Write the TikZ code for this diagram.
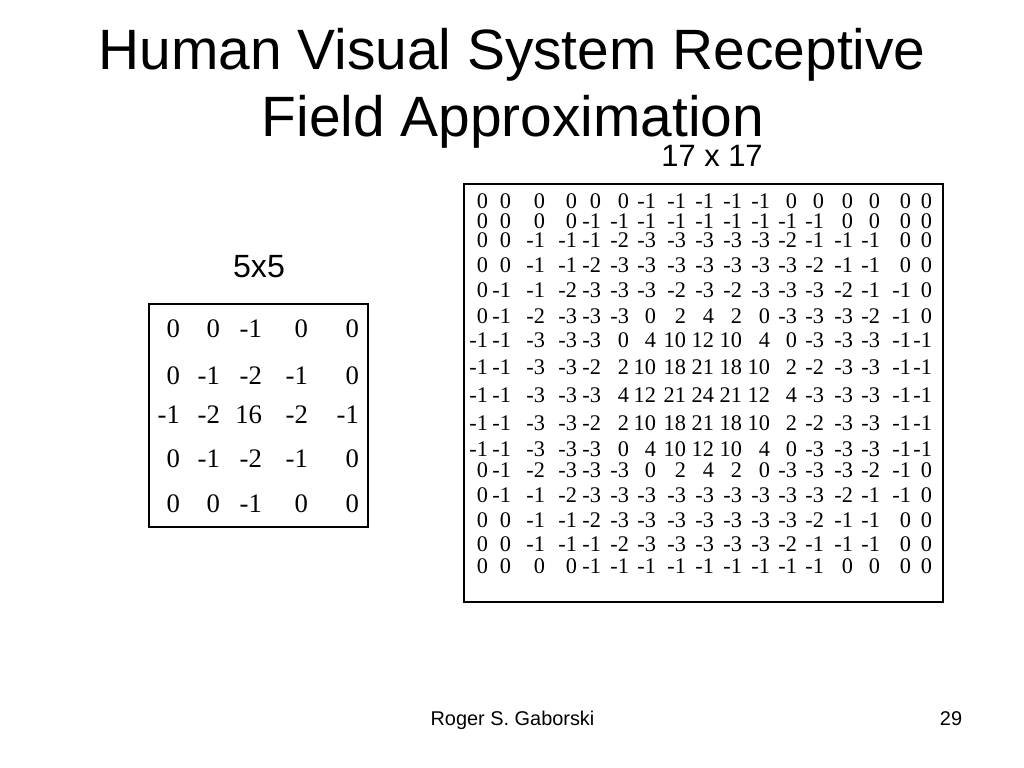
\documentclass[tikz,border=0pt]{standalone}
\usepackage{fontspec}
\setmainfont{Liberation Serif}
\newfontfamily\arialf{Liberation Sans}
\begin{document}
\begin{tikzpicture}[x=0.703125pt,y=-0.703125pt,
  every node/.style={inner sep=0pt,outer sep=0pt},
  bigcell/.style={anchor=base east,font=\fontsize{15.7}{18}\selectfont},
  smallcell/.style={anchor=base east,font=\fontsize{18.8}{22}\selectfont},
  frame/.style={draw=black,line width=1.1pt}]
\useasboundingbox (0,0) rectangle (1024,768);
% title
\node[anchor=base,font=\arialf\fontsize{40}{46}\selectfont] (t1) at (512,70) {Human Visual System Receptive};
\node[anchor=base,font=\arialf\fontsize{40}{46}\selectfont] (t2) at (513,137) {Field Approximation};
% labels
\node[anchor=base,font=\arialf\fontsize{21.7}{25}\selectfont] (l17) at (712,167) {17 x 17};
\node[anchor=base,font=\arialf\fontsize{22.6}{26}\selectfont] (l5) at (259,278) {5x5};
% footer
\node[anchor=base,font=\arialf\fontsize{14}{16}\selectfont] (auth) at (512.5,725) {Roger S. Gaborski};
\node[anchor=base,font=\arialf\fontsize{14}{16}\selectfont] (pg) at (951,725) {29};
% frames
\draw[frame] (149,304) rectangle (368,527);
\draw[frame] (464,184) rectangle (943,602);
% 5x5 matrix
\def\fyy{{338,384,423,467,512}}
\def\fxx{{180,220,262,308,359}}
\foreach \row [count=\r] in {{0,0,-1,0,0},{0,-1,-2,-1,0},{-1,-2,16,-2,-1},{0,-1,-2,-1,0},{0,0,-1,0,0}}{
  \foreach \v [count=\c] in \row {
    \pgfmathsetmacro\yy{\fyy[\r-1]}
    \pgfmathsetmacro\xx{\fxx[\c-1]}
    \node[smallcell] (s\r-\c) at (\xx,\yy) {\v};
  }
}
% 17x17 matrix
\def\byy{{209,229,248,273,298,323,347,374,402,430,456,477,502,527,551,573}}
\def\bxx{{488,511,545,577,601,629,656,686,714,742,770,797,824,853,880,911,932}}
\foreach \row [count=\r] in {
 {0,0,0,0,0,0,-1,-1,-1,-1,-1,0,0,0,0,0,0},
 {0,0,0,0,-1,-1,-1,-1,-1,-1,-1,-1,-1,0,0,0,0},
 {0,0,-1,-1,-1,-2,-3,-3,-3,-3,-3,-2,-1,-1,-1,0,0},
 {0,0,-1,-1,-2,-3,-3,-3,-3,-3,-3,-3,-2,-1,-1,0,0},
 {0,-1,-1,-2,-3,-3,-3,-2,-3,-2,-3,-3,-3,-2,-1,-1,0},
 {0,-1,-2,-3,-3,-3,0,2,4,2,0,-3,-3,-3,-2,-1,0},
 {-1,-1,-3,-3,-3,0,4,10,12,10,4,0,-3,-3,-3,-1,-1},
 {-1,-1,-3,-3,-2,2,10,18,21,18,10,2,-2,-3,-3,-1,-1},
 {-1,-1,-3,-3,-3,4,12,21,24,21,12,4,-3,-3,-3,-1,-1},
 {-1,-1,-3,-3,-2,2,10,18,21,18,10,2,-2,-3,-3,-1,-1},
 {-1,-1,-3,-3,-3,0,4,10,12,10,4,0,-3,-3,-3,-1,-1},
 {0,-1,-2,-3,-3,-3,0,2,4,2,0,-3,-3,-3,-2,-1,0},
 {0,-1,-1,-2,-3,-3,-3,-3,-3,-3,-3,-3,-3,-2,-1,-1,0},
 {0,0,-1,-1,-2,-3,-3,-3,-3,-3,-3,-3,-2,-1,-1,0,0},
 {0,0,-1,-1,-1,-2,-3,-3,-3,-3,-3,-2,-1,-1,-1,0,0},
 {0,0,0,0,-1,-1,-1,-1,-1,-1,-1,-1,-1,0,0,0,0}}{
  \foreach \v [count=\c] in \row {
    \pgfmathsetmacro\yy{\byy[\r-1]}
    \pgfmathsetmacro\xx{\bxx[\c-1]}
    \node[bigcell] (b\r-\c) at (\xx,\yy) {\v};
  }
}
\end{tikzpicture}
\end{document}
